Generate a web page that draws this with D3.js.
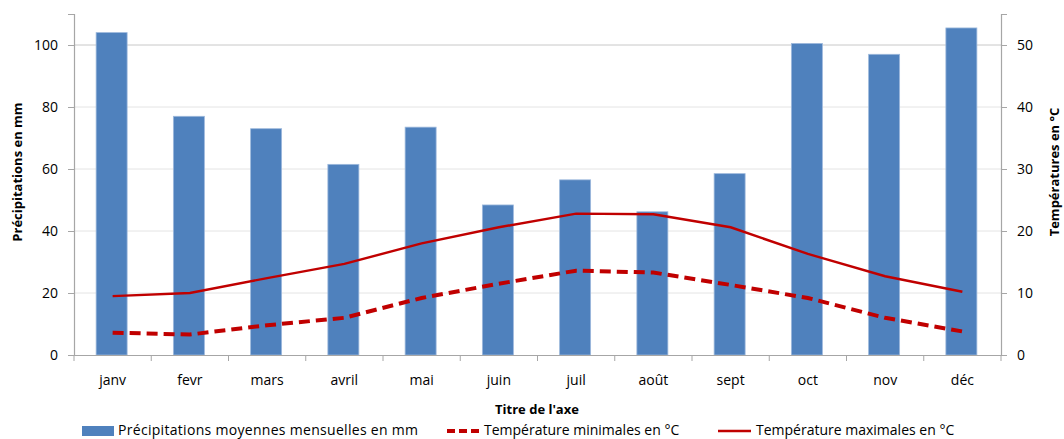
<!DOCTYPE html>
<html><head><meta charset="utf-8">
<script src="https://cdn.jsdelivr.net/npm/d3@7"></script>
<style>body{margin:0;background:#fff}svg{display:block;font-family:"Open Sans","Noto Sans",sans-serif}</style>
</head><body><svg id="c" width="1064" height="439"></svg>
<script>
const months = ["janv","fevr","mars","avril","mai","juin","juil","août","sept","oct","nov","déc"];
const precip = [104, 77, 73, 61.5, 73.5, 48.4, 56.5, 46.2, 58.5, 100.5, 97, 105.5];
const tMin = [3.6, 3.3, 4.8, 6.0, 9.2, 11.5, 13.6, 13.3, 11.3, 9.2, 6.0, 3.8];
const tMax = [9.5, 10.0, 12.4, 14.7, 18.0, 20.6, 22.8, 22.7, 20.6, 16.3, 12.7, 10.2];
const leftTicks = [0,20,40,60,80,100];
const rightTicks = [0,10,20,30,40,50];
const legendLabels = ["Précipitations moyennes mensuelles en mm","Température minimales en °C","Température maximales en °C"];

const svg = d3.select("#c");
const L = 74, R = 1001, T = 14, B = 355;
const x = d3.scaleBand().domain(months).range([L, R]);
const yL = d3.scaleLinear().domain([0, 110]).range([B, T]);
const yR = d3.scaleLinear().domain([0, 55]).range([B, T]);
const blue = "#4f81bd", red = "#c00000", grid = "#e4e4e4", axisC = "#a6a6a6";

// gridlines
svg.append("g").selectAll("line").data(leftTicks.slice(1)).join("line")
  .attr("x1", L).attr("x2", R).attr("y1", d => yL(d)).attr("y2", d => yL(d))
  .attr("stroke", d => d === 100 ? "#c8c8c8" : grid).attr("stroke-width", 1);

// bars
const bw = 31;
svg.append("g").selectAll("rect").data(precip).join("rect")
  .attr("x", (d,i) => x(months[i]) + x.bandwidth()/2 - bw/2 - 1)
  .attr("width", bw).attr("y", d => yL(d)).attr("height", d => B - yL(d))
  .attr("fill", blue).attr("stroke", "#9db9dc").attr("stroke-width", 0.8);

// left axis
const gL = svg.append("g").attr("transform", `translate(${L},0)`)
  .call(d3.axisLeft(yL).tickValues(leftTicks).tickSize(6).tickPadding(10));
// right axis
const gR = svg.append("g").attr("transform", `translate(${R},0)`)
  .call(d3.axisRight(yR).tickValues(rightTicks).tickSize(6).tickPadding(10));
// bottom axis
const gB = svg.append("g").attr("transform", `translate(0,${B})`)
  .call(d3.axisBottom(x).tickSize(0).tickPadding(20));
const bTicks = d3.range(months.length + 1).map(i => L + i * x.step());
svg.append("g").selectAll("line").data(bTicks).join("line")
  .attr("x1", d => d).attr("x2", d => d).attr("y1", B).attr("y2", B + 6)
  .attr("stroke", axisC);
[gL, gR, gB].forEach(g => {
  g.selectAll("path.domain").attr("stroke", axisC).attr("stroke-width", 1.2);
  g.selectAll(".tick line").attr("stroke", axisC);
  g.selectAll("text").attr("font-size", 14).attr("fill", "#000")
    .attr("font-family", '"Open Sans","Noto Sans",sans-serif');
});
gL.selectAll(".tick text").attr("dy", "0.35em");
gR.selectAll(".tick text").attr("dy", "0.35em");

// lines
const cx = i => x(months[i]) + x.bandwidth()/2;
const lineT = d3.line().x((d,i) => cx(i)).y(d => yR(d));
svg.append("path").datum(tMin).attr("d", lineT).attr("fill", "none")
  .attr("stroke", red).attr("stroke-width", 4).attr("stroke-dasharray", "11,6");
svg.append("path").datum(tMax).attr("d", lineT).attr("fill", "none")
  .attr("stroke", red).attr("stroke-width", 2.4);

// axis titles
svg.append("text").attr("transform", "translate(22,172) rotate(-90)")
  .attr("text-anchor", "middle").attr("font-weight", "bold").attr("font-size", 13)
  .text("Précipitations en mm");
svg.append("text").attr("transform", "translate(1059,172) rotate(-90)")
  .attr("text-anchor", "middle").attr("font-weight", "bold").attr("font-size", 13)
  .text("Températures en °C");
svg.append("text").attr("x", 537).attr("y", 414).attr("text-anchor", "middle")
  .attr("font-weight", "bold").attr("font-size", 13).text("Titre de l'axe");

// legend
const lg = svg.append("g").attr("font-size", 14);
const ly = 431;
lg.append("rect").attr("x", 82).attr("y", ly - 5).attr("width", 32).attr("height", 10).attr("fill", blue);
lg.append("text").attr("x", 118).attr("y", ly + 4).attr("textLength", 300).text(legendLabels[0]);
lg.append("line").attr("x1", 447).attr("x2", 480).attr("y1", ly).attr("y2", ly)
  .attr("stroke", red).attr("stroke-width", 4).attr("stroke-dasharray", "8,4");
lg.append("text").attr("x", 484).attr("y", ly + 4).text(legendLabels[1]);
lg.append("line").attr("x1", 718).attr("x2", 751).attr("y1", ly).attr("y2", ly)
  .attr("stroke", red).attr("stroke-width", 2.5);
lg.append("text").attr("x", 756).attr("y", ly + 4).text(legendLabels[2]);
</script></body></html>
